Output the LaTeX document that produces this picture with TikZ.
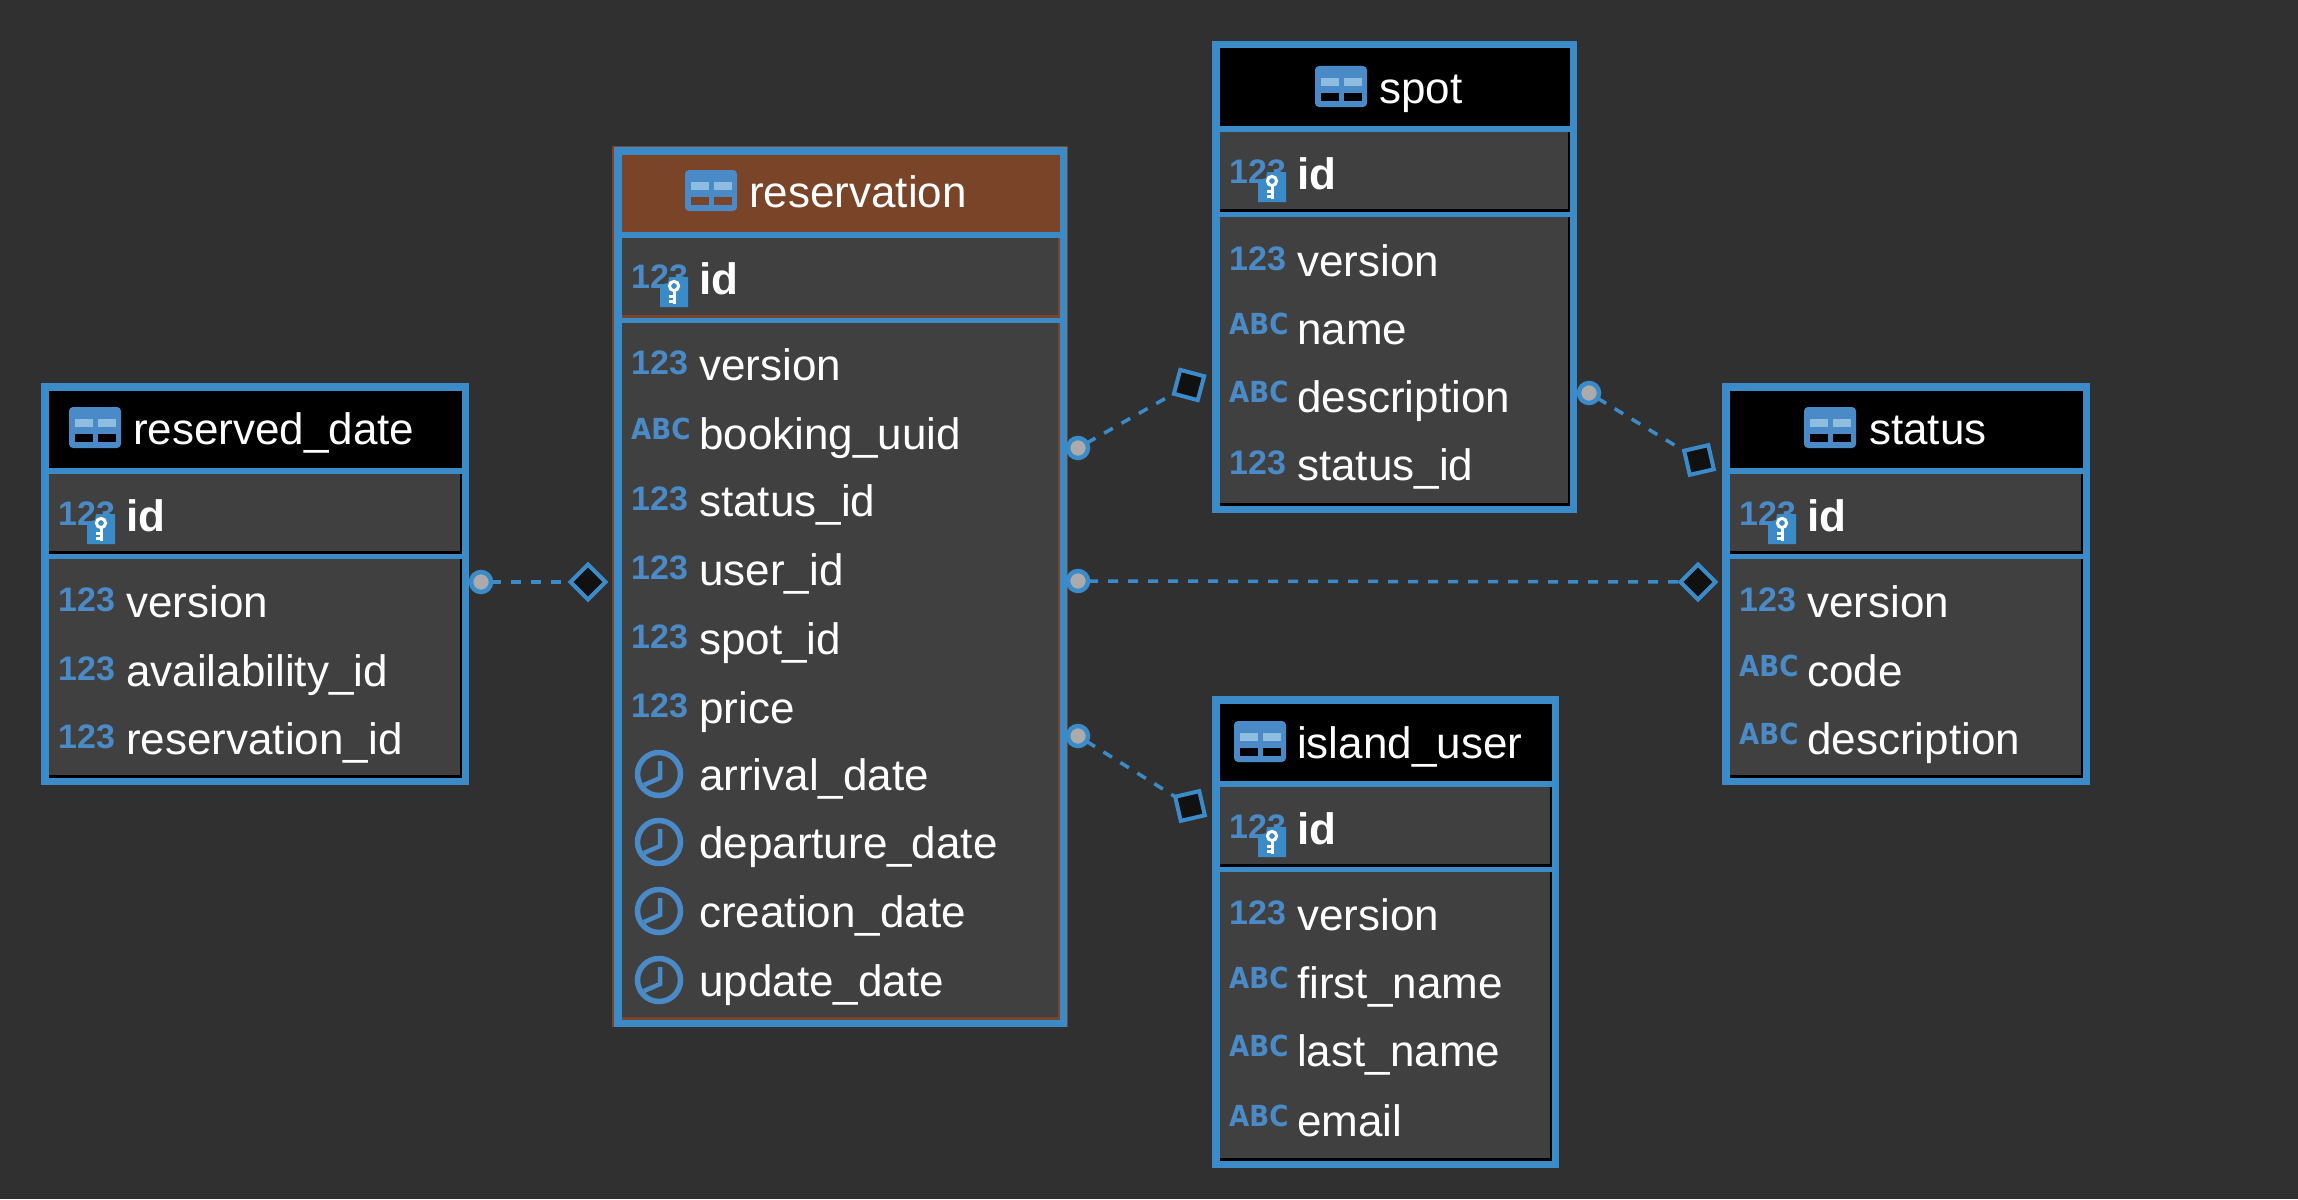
\documentclass[tikz,border=0pt]{standalone}
\usepackage{fontspec}
\usetikzlibrary{shapes.geometric}
\setmainfont{Liberation Sans}
\newfontfamily\abcfont[FakeStretch=0.9]{DejaVu Sans}
\newfontfamily\numfont{Liberation Sans}
\definecolor{bgdark}{HTML}{303030}
\definecolor{rowgrey}{HTML}{404040}
\definecolor{erblue}{HTML}{3B8BC9}
\definecolor{iconblue}{HTML}{4A8AC6}
\definecolor{celllight}{HTML}{8FBDE0}
\definecolor{resbrown}{HTML}{7A4428}
\definecolor{dotgrey}{HTML}{ABABAB}
\definecolor{diafill}{HTML}{111111}
\tikzset{
  frame/.style={draw=erblue,line width=7.5pt,fill=none,rectangle,inner sep=0pt,outer sep=0pt},
  titletext/.style={anchor=base west,inner sep=0pt,text=white,font=\fontsize{44}{50}\selectfont},
  fieldtext/.style={anchor=base west,inner sep=0pt,text=white,font=\fontsize{44}{50}\selectfont},
  keytext/.style={fieldtext,font=\fontsize{44}{50}\selectfont\bfseries},
  numicon/.style={anchor=base west,inner sep=0pt,text=iconblue,font=\fontsize{34}{40}\numfont\bfseries},
  abcicon/.style={anchor=base west,inner sep=0pt,text=iconblue,font=\fontsize{29}{36}\abcfont\bfseries},
  clockface/.style={circle,draw=iconblue,line width=5.5pt,minimum size=43pt,inner sep=0pt,outer sep=0pt},
  clockhand/.style={draw=iconblue,line width=4.5pt},
  startdot/.style={circle,draw=erblue,line width=4.5pt,fill=dotgrey,minimum size=20pt,inner sep=0pt,outer sep=0pt},
  enddiamond/.style={diamond,aspect=1,draw=erblue,line width=4pt,fill=diafill,minimum size=35pt,inner sep=0pt,outer sep=0pt},
  relation/.style={draw=erblue,line width=3.5pt,dash pattern=on 10pt off 10pt},
}
% \tablebody{name}{x1}{y1}{x2}{y2}{header colour}
\newcommand{\tablebody}[6]{%
  \fill[#6] ({#2+5},{#3+5}) rectangle ({#4-5},{#5-5});
  \fill[rowgrey] ({#2+6},{#3+90}) rectangle ({#4-9},{#3+168});
  \fill[rowgrey] ({#2+6},{#3+176}) rectangle ({#4-9},{#5-10});
  \fill[erblue] ({#2+5},{#3+85}) rectangle ({#4-5},{#3+90.5});
  \fill[erblue] ({#2+5},{#3+170.5}) rectangle ({#4-5},{#3+176});
  \node[frame,minimum width={(#4-#2-7.5)*1pt},minimum height={(#5-#3-7.5)*1pt}] (#1) at ({(#2+#4)/2},{(#3+#5)/2}) {};
}
% \tabletitle{name}{icon x}{top}{header colour}{text x}{text}
\newcommand{\tabletitle}[6]{%
  \fill[iconblue,rounded corners=4pt] ({#2},{#3+24}) rectangle ({#2+52},{#3+65});
  \fill[celllight] ({#2+6},{#3+36}) rectangle ({#2+24},{#3+44});
  \fill[celllight] ({#2+29},{#3+36}) rectangle ({#2+47},{#3+44});
  \fill[#4] ({#2+6},{#3+51}) rectangle ({#2+24},{#3+59});
  \fill[#4] ({#2+29},{#3+51}) rectangle ({#2+47},{#3+59});
  \node[titletext] (#1-title) at ({#5},{#3+61}) {#6};
}
% \idrow{name}{left}{top}
\newcommand{\idrow}[3]{%
  \node[numicon] (#1-idicon) at ({#2+17},{#3+142}) {123};
  \fill[erblue] ({#2+46},{#3+139}) -- ({#2+54},{#3+137}) -- ({#2+55},{#3+131}) -- ({#2+74},{#3+131}) -- ({#2+74},{#3+161}) -- ({#2+46},{#3+161}) -- cycle;
  \draw[white,line width=3pt] ({#2+60},{#3+140}) circle (4.6pt);
  \draw[white,line width=3pt] ({#2+60},{#3+145}) -- ({#2+60},{#3+158});
  \draw[white,line width=2.5pt] ({#2+60},{#3+150.5}) -- ({#2+55},{#3+150.5}) ({#2+60},{#3+155.5}) -- ({#2+55},{#3+155.5});
  \node[keytext] (#1-id) at ({#2+85},{#3+148}) {id};
}
% \numrow{name}{left}{baseline}{text}
\newcommand{\numrow}[4]{%
  \node[numicon] (#1-icon) at ({#2+17},{#3-6}) {123};
  \node[fieldtext] (#1) at ({#2+85},{#3}) {#4};
}
\newcommand{\abcrow}[4]{%
  \node[abcicon] (#1-icon) at ({#2+17},{#3-10}) {ABC};
  \node[fieldtext] (#1) at ({#2+85},{#3}) {#4};
}
\newcommand{\timerow}[4]{%
  \node[clockface] (#1-icon) at ({#2+45},{#3-16}) {};
  \draw[clockhand] ({#2+46},{#3-29}) -- ({#2+46},{#3-12}) -- ({#2+30},{#3-5});
  \node[fieldtext] (#1) at ({#2+85},{#3}) {#4};
}
\begin{document}
\begin{tikzpicture}[x=1pt,y=-1pt]
\fill[bgdark] (0,0) rectangle (2298,1199);
\useasboundingbox (0,0) rectangle (2298,1199);

% reserved_date
\tablebody{reserved}{41}{383}{469}{785}{black}
\tabletitle{reserved}{69}{383}{black}{133}{reserved\_date}
\idrow{reserved}{41}{383}
\numrow{reserved-version}{41}{617}{version}
\numrow{reserved-availability}{41}{686}{availability\_id}
\numrow{reserved-reservation}{41}{754}{reservation\_id}

% reservation
\fill[resbrown] (612,146) rectangle (1068,1027);
\tablebody{reservation}{614}{147}{1067}{1027}{resbrown}
\tabletitle{reservation}{685}{146}{resbrown}{749}{reservation}
\idrow{reservation}{614}{146}
\numrow{res-version}{614}{380}{version}
\abcrow{res-booking}{614}{449}{booking\_uuid}
\numrow{res-status}{614}{516}{status\_id}
\numrow{res-user}{614}{585}{user\_id}
\numrow{res-spot}{614}{654}{spot\_id}
\numrow{res-price}{614}{723}{price}
\timerow{res-arrival}{614}{790}{arrival\_date}
\timerow{res-departure}{614}{858}{departure\_date}
\timerow{res-creation}{614}{927}{creation\_date}
\timerow{res-update}{614}{996}{update\_date}

% spot
\tablebody{spot}{1212}{41}{1577}{513}{black}
\tabletitle{spot}{1315}{42}{black}{1379}{spot}
\idrow{spot}{1212}{41}
\numrow{spot-version}{1212}{276}{version}
\abcrow{spot-name}{1212}{344}{name}
\abcrow{spot-description}{1212}{412}{description}
\numrow{spot-status}{1212}{480}{status\_id}

% status
\tablebody{status}{1722}{383}{2090}{785}{black}
\tabletitle{status}{1804}{383}{black}{1869}{status}
\idrow{status}{1722}{383}
\numrow{status-version}{1722}{617}{version}
\abcrow{status-code}{1722}{686}{code}
\abcrow{status-description}{1722}{754}{description}

% island_user
\tablebody{island}{1212}{696}{1559}{1168}{black}
\tabletitle{island}{1234}{697}{black}{1297}{island\_user}
\idrow{island}{1212}{696}
\numrow{island-version}{1212}{930}{version}
\abcrow{island-first}{1212}{998}{first\_name}
\abcrow{island-last}{1212}{1066}{last\_name}
\abcrow{island-email}{1212}{1136}{email}

% relation ends
\node[startdot] (dot-res-spot) at (1078,448) {};
\node[enddiamond,rotate=30] (dia-spot) at (1189,385) {};
\node[startdot] (dot-spot-status) at (1589,393) {};
\node[enddiamond,rotate=-32] (dia-status-spot) at (1699,460) {};
\node[startdot] (dot-res-status) at (1078,581) {};
\node[enddiamond] (dia-status) at (1698,582) {};
\node[startdot] (dot-res-user) at (1078,736) {};
\node[enddiamond,rotate=-32] (dia-user) at (1190,806) {};
\node[startdot] (dot-reserved) at (481,582) {};
\node[enddiamond] (dia-reserved) at (588,582) {};

\draw[relation] (dot-res-spot) -- (dia-spot);
\draw[relation] (dot-spot-status) -- (dia-status-spot);
\draw[relation] (dot-res-status) -- (dia-status);
\draw[relation] (dot-res-user) -- (dia-user);
\draw[relation] (dot-reserved) -- (dia-reserved);
\end{tikzpicture}
\end{document}
